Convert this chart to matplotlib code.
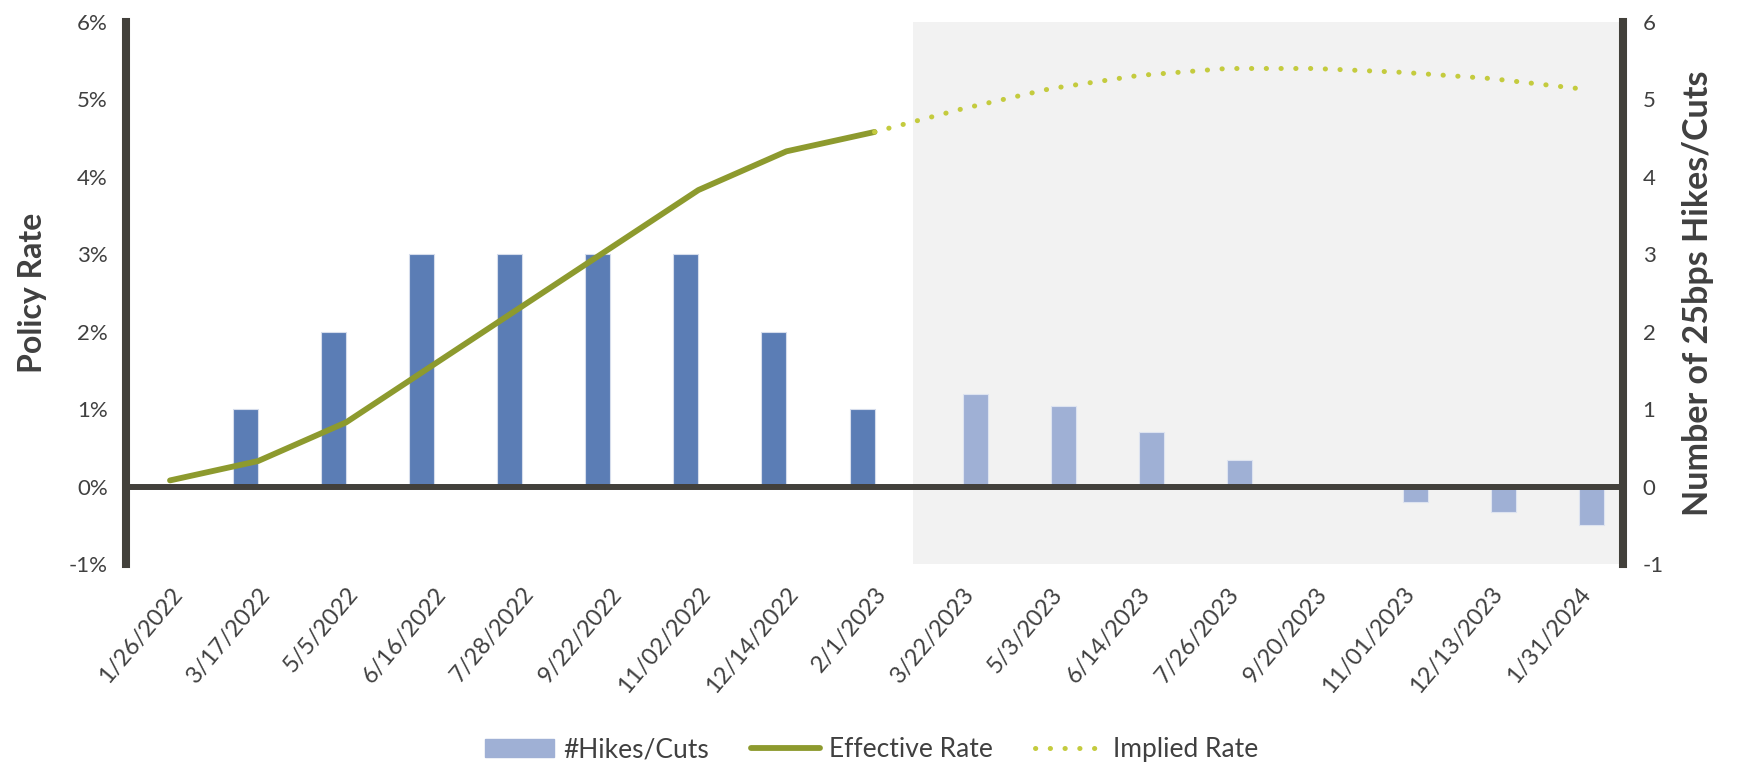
import numpy as np
import matplotlib
matplotlib.use("Agg")
from matplotlib import pyplot as plt
from matplotlib.patches import Patch
from matplotlib.lines import Line2D

plt.rcParams['font.family'] = ['Lato', 'DejaVu Sans']

# FOMC meeting dates
dates = ['1/26/2022', '3/17/2022', '5/5/2022', '6/16/2022', '7/28/2022',
         '9/22/2022', '11/02/2022', '12/14/2022', '2/1/2023', '3/22/2023',
         '5/3/2023', '6/14/2023', '7/26/2023', '9/20/2023', '11/01/2023',
         '12/13/2023', '1/31/2024']

# number of 25bp moves: actual (dark) and market implied (light)
hikes_actual = [0, 1, 2, 3, 3, 3, 3, 2, 1, 0, 0, 0, 0, 0, 0, 0, 0]
hikes_implied = [0, 0, 0, 0, 0, 0, 0, 0, 0, 1.2, 1.04, 0.7, 0.34, 0, -0.2, -0.33, -0.5]

# rates in %
effective_rate = [0.08, 0.33, 0.83, 1.58, 2.33, 3.08, 3.83, 4.33, 4.58]
implied_rate = [4.58, 4.88, 5.14, 5.31, 5.40, 5.40, 5.35, 5.27, 5.14]

c_dark = '#5b7db5'
c_light = '#9fb0d5'
c_eff = '#8d9a2e'
c_imp = '#c4cb3e'
c_axis = '#42403b'
c_text = '#404040'

fig = plt.figure(figsize=(17.4, 7.65), dpi=100)
ax2 = fig.add_axes([0.0724, 0.2627, 0.8604, 0.7085])
ax = ax2.twinx()
ax.set_zorder(ax2.get_zorder() + 1)
ax.patch.set_visible(False)

x = np.arange(len(dates))
w = 0.284

# forecast shading
ax2.axvspan(8.44, 16.5, color='#f2f2f2', zorder=0, lw=0)

ax2.bar(x - w / 2, hikes_actual, width=w, color=c_dark, edgecolor='#d6ddec', linewidth=0.8, zorder=2)
ax2.bar(x + w / 2, hikes_implied, width=w, color=c_light, edgecolor='#dde3f0', linewidth=0.8, zorder=2)

ax.axhline(0, color=c_axis, lw=4.3, zorder=3)
ax.plot(x[:len(effective_rate)], effective_rate, color=c_eff, lw=4.2,
        solid_capstyle='round', solid_joinstyle='round', zorder=4)
ax.plot(x[8:8 + len(implied_rate)], implied_rate, color=c_imp, lw=3.6,
        linestyle=(0, (0.05, 2.9)), dash_capstyle='round', zorder=4)

# left axis is on the twin, right axis is the base; swap sides
ax.yaxis.set_label_position('left')
ax.yaxis.tick_left()
ax2.yaxis.set_label_position('right')
ax2.yaxis.tick_right()

for a in (ax, ax2):
    a.set_xlim(-0.5, 16.5)
    a.set_ylim(-1, 6)
    a.spines['top'].set_visible(False)
    a.spines['bottom'].set_visible(False)
    a.tick_params(length=0, labelsize=16, labelcolor=c_text)

ax.spines['right'].set_visible(False)
ax.spines['left'].set_color(c_axis)
ax.spines['left'].set_linewidth(5.8)
ax2.spines['left'].set_visible(False)
ax2.spines['right'].set_color(c_axis)
ax2.spines['right'].set_linewidth(5.8)

ax.set_yticks(range(-1, 7))
ax.set_yticklabels([f'{v}%' for v in range(-1, 7)])
ax2.set_yticks(range(-1, 7))
ax2.set_yticklabels([str(v) for v in range(-1, 7)])
ax.tick_params(axis='y', pad=13)
ax2.tick_params(axis='y', pad=14)

ax2.set_xticks(x)
ax2.set_xticklabels(dates, rotation=50, ha='right', rotation_mode='anchor', fontsize=17)
ax2.tick_params(axis='x', pad=14)

ax.set_ylabel('Policy Rate', fontsize=23, fontweight='bold', color=c_text, labelpad=16)
ax2.set_ylabel('Number of 25bps Hikes/Cuts', fontsize=24.5, fontweight='bold',
               color=c_text, labelpad=13)

handles = [Patch(color=c_light),
           Line2D([], [], color=c_eff, lw=4.2, solid_capstyle='round'),
           Line2D([], [], color=c_imp, lw=3.6, linestyle=(0, (0.05, 2.9)), dash_capstyle='round')]
fig.legend(handles, ['#Hikes/Cuts', 'Effective Rate', 'Implied Rate'],
           loc='center', bbox_to_anchor=(0.501, 0.02), ncol=3, frameon=False,
           fontsize=19, labelcolor=c_text, handlelength=2.6, handletextpad=0.35,
           columnspacing=1.6)

plt.savefig('out.png', dpi=100)
plt.close(fig)
